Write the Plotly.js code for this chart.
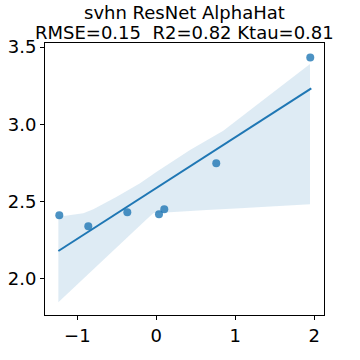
<!DOCTYPE html>
<html>
<head>
<meta charset="utf-8">
<script src="https://cdn.plot.ly/plotly-3.0.1.min.js"></script>
<style>
  html, body { margin: 0; padding: 0; background: #fff; }
  #chart { width: 360px; height: 360px; }
</style>
</head>
<body>
<div id="chart"></div>
<script>
// точки
const pointX = [-1.228, -0.861, -0.367, 0.034, 0.101, 0.759, 1.949];
const pointY = [2.412, 2.341, 2.431, 2.419, 2.451, 2.748, 3.433];

// линия регрессии
const fitX = [-1.24, 1.962];
const fitY = [2.181, 3.233];

// доверительный интервал (верх / низ)
const bandUpX = [-1.24, -1.05, -0.924, -0.797, -0.501, -0.206, 0.005, 0.427, 0.848, 1.271, 1.65, 1.946];
const bandUpY = [2.403, 2.418, 2.425, 2.451, 2.532, 2.619, 2.694, 2.834, 2.959, 3.125, 3.275, 3.39];
const bandLoX = [-1.24, -0.122, -0.038, 0.215, 0.638, 1.059, 1.481, 1.946];
const bandLoY = [1.850, 2.386, 2.425, 2.435, 2.446, 2.457, 2.468, 2.483];

// заголовок
const titleLines = ['svhn ResNet AlphaHat', 'RMSE=0.15  R2=0.82 Ktau=0.81'];

const band = {
    x: bandUpX.concat(bandLoX.slice().reverse()),
    y: bandUpY.concat(bandLoY.slice().reverse()),
    type: 'scatter',
    mode: 'lines',
    fill: 'toself',
    fillcolor: 'rgba(31,119,180,0.15)',
    line: { width: 0 },
    hoverinfo: 'skip'
};

const points = {
    x: pointX,
    y: pointY,
    type: 'scatter',
    mode: 'markers',
    marker: { color: 'rgba(31,119,180,0.8)', size: 8 },
    hoverinfo: 'skip'
};

const fit = {
    x: fitX,
    y: fitY,
    type: 'scatter',
    mode: 'lines',
    line: { color: '#1f77b4', width: 2 },
    hoverinfo: 'skip'
};

const axisStyle = {
    showline: true,
    mirror: true,
    linecolor: '#000',
    linewidth: 1,
    ticks: 'outside',
    ticklen: 4,
    tickcolor: '#000',
    showgrid: false,
    zeroline: false,
    tickfont: { size: 18, color: '#000' }
};

// две строки заголовка как аннотации, чтобы точно поставить их
const titleShifts = [31, 11];
const annotations = titleLines.map((t, i) => ({
    text: t,
    xref: 'paper',
    yref: 'paper',
    x: 0.5,
    y: 1,
    xanchor: 'center',
    yanchor: 'middle',
    yshift: titleShifts[i],
    showarrow: false,
    font: { size: 18, color: '#000' }
}));

const layout = {
    width: 360,
    height: 360,
    showlegend: false,
    margin: { l: 45, r: 36, t: 43, b: 45 },
    paper_bgcolor: '#fff',
    plot_bgcolor: '#fff',
    font: { family: 'DejaVu Sans', color: '#000' },
    annotations: annotations,
    xaxis: Object.assign({}, axisStyle, {
        range: [-1.409, 2.123],
        tickvals: [-1, 0, 1, 2],
        ticktext: ['\u22121', '0', '1', '2']
    }),
    yaxis: Object.assign({}, axisStyle, {
        range: [1.767, 3.526],
        tickvals: [2.0, 2.5, 3.0, 3.5],
        ticktext: ['2.0', '2.5', '3.0', '3.5']
    })
};

Plotly.newPlot('chart', [band, fit, points], layout, { displayModeBar: false, staticPlot: true });
</script>
</body>
</html>
